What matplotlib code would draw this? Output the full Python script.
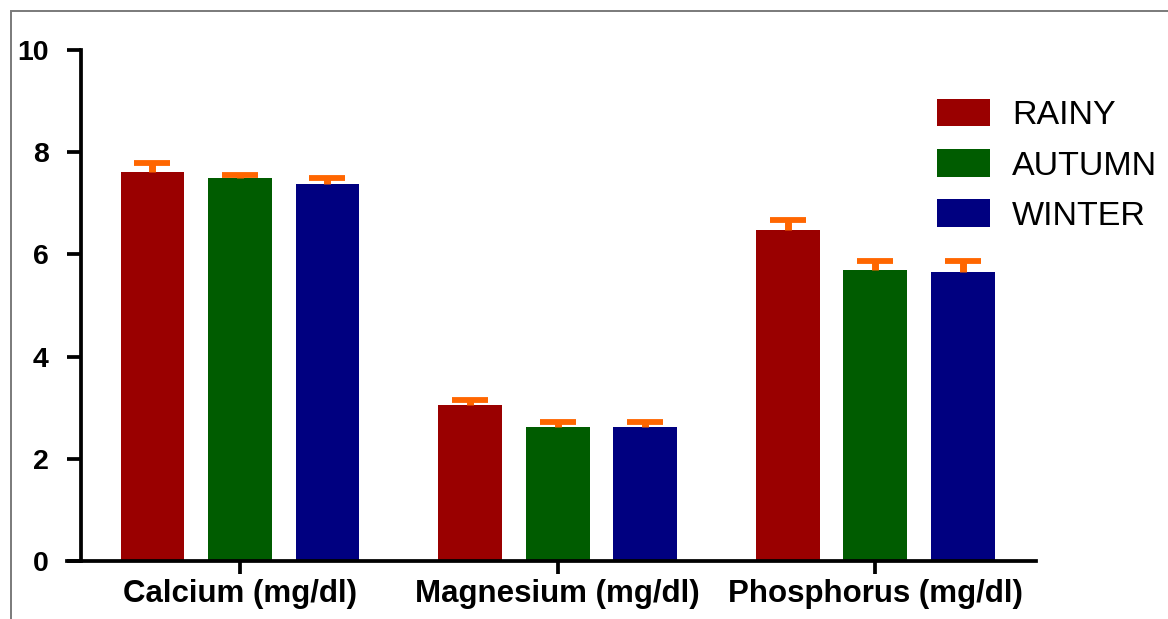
import numpy as np
import matplotlib.pyplot as plt
from matplotlib.patches import Rectangle

categories = ['Calcium (mg/dl)', 'Magnesium (mg/dl)', 'Phosphorus (mg/dl)']
seasons = ['RAINY', 'AUTUMN', 'WINTER']
rainy = [7.61, 3.05, 6.48]
rainy_err = [0.18, 0.10, 0.20]
autumn = [7.50, 2.62, 5.69]
autumn_err = [0.05, 0.10, 0.18]
winter = [7.38, 2.62, 5.66]
winter_err = [0.12, 0.10, 0.21]
colors = ['#9A0000', '#005C00', '#000080']
yticks = [0, 2, 4, 6, 8, 10]

plt.rcParams['font.family'] = ['Liberation Sans', 'DejaVu Sans']

W, H = 1168, 619
fig = plt.figure(figsize=(W / 100, H / 100), dpi=100)

# axes box in pixels: x from 67 to 1036, y from 50 (top) to 561 (zero line)
ax = fig.add_axes([67 / W, (H - 561) / H, (1036 - 67) / W, (561 - 50) / H])

pitch = 1.0
group_gap = 3.63
width = 0.73
centers = np.arange(len(categories)) * group_gap

series = [(rainy, rainy_err), (autumn, autumn_err), (winter, winter_err)]
for i, (vals, err) in enumerate(series):
    x = centers + (i - 1) * pitch
    ax.bar(x, vals, width=width, color=colors[i], label=seasons[i], zorder=2)
    eb = ax.errorbar(x, vals, yerr=[np.zeros(len(err)), err], fmt='none',
                     ecolor='#FF6600', elinewidth=5, capsize=13, capthick=4.2,
                     zorder=3)
    # only the upper cap is shown
    eb[1][0].set_visible(False)

ax.set_xlim(-1.977, 9.097)
ax.set_ylim(0, 10)
ax.set_yticks(yticks)
ax.set_xticks(centers)
ax.set_xticklabels(categories)

for s in ['top', 'right']:
    ax.spines[s].set_visible(False)
ax.spines['left'].set_position(('axes', 0.014))
ax.spines['left'].set_linewidth(2.7)
ax.spines['bottom'].set_linewidth(2.7)
ax.spines['left'].set_capstyle('projecting')
ax.tick_params(axis='y', length=10, width=2.7, pad=13, labelsize=20.5)
ax.tick_params(axis='x', length=9, width=2.7, pad=4, labelsize=22.5)
for lab in ax.get_xticklabels() + ax.get_yticklabels():
    lab.set_fontweight('bold')

ax.legend(loc='upper left', bbox_to_anchor=(937 / W, 1 - 99 / H),
          bbox_transform=fig.transFigure, frameon=False, fontsize=24.5,
          handlelength=1.57, handleheight=0.86, handletextpad=0.64,
          labelspacing=0.52, borderpad=0, borderaxespad=0)

# thin grey frame around the picture
fig.patches.append(Rectangle((11 / W, -0.1), 1.2, 1 - 11 / H + 0.1,
                             transform=fig.transFigure, fill=False,
                             edgecolor='#7a7a7a', linewidth=1.4))

fig.savefig('out.png', dpi=100)
